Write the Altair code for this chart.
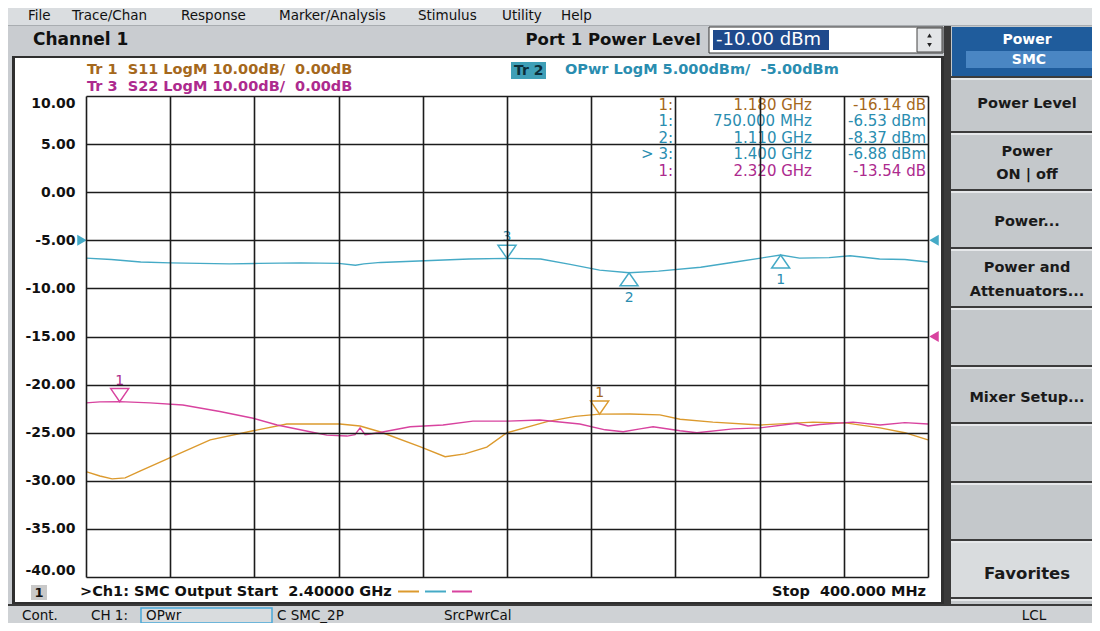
import altair as alt
import pandas as pd

# ---------------- sweep / graticule ----------------
start_mhz = 2400.0
stop_mhz = 400.0
x_grid_mhz = [400, 600, 800, 1000, 1200, 1400, 1600, 1800, 2000, 2200, 2400]
y_grid_vals = [10, 5, 0, -5, -10, -15, -20, -25, -30, -35, -40]

# trace scale settings (from the trace annotations)
tr2_ref_dbm = -5.0
tr2_per_div = 5.0
tr13_ref_db = 0.0
tr13_per_div = 10.0
tr13_ref_pos = -15.0   # graticule value where the S-parameter reference line sits

# ---------------- traces ----------------
tr2_freq_mhz = [2400, 2340, 2270, 2200, 2130, 2060, 1990, 1890, 1800, 1760,
                1740, 1700, 1610, 1490, 1400, 1320, 1250, 1180, 1110, 1040,
                940, 850, 775, 750, 705, 635, 585, 515, 455, 400]
tr2_opwr_dbm = [-6.85, -7.0, -7.25, -7.35, -7.4, -7.45, -7.4, -7.35, -7.4, -7.6,
                -7.45, -7.3, -7.15, -6.95, -6.88, -6.95, -7.5, -8.1, -8.37, -8.2,
                -7.8, -7.2, -6.7, -6.53, -6.85, -6.8, -6.6, -6.95, -7.0, -7.25]

tr1_freq_mhz = [2400, 2367, 2338, 2307, 2272, 2200, 2105, 2003, 1923, 1797,
                1749, 1702, 1607, 1547, 1500, 1448, 1400, 1305, 1238, 1180,
                1108, 1037, 989, 911, 799, 673, 592, 514, 455, 400]
tr1_s11_db = [-28.1, -29.0, -29.6, -29.4, -28.0, -25.2, -21.5, -19.6, -18.2, -18.2,
              -18.6, -19.8, -22.9, -25.0, -24.4, -23.0, -20.0, -17.7, -16.6, -16.14,
              -16.1, -16.3, -17.2, -17.8, -18.4, -17.8, -18.0, -19.0, -20.0, -21.5]

tr3_freq_mhz = [2400, 2367, 2320, 2248, 2170, 2082, 2003, 1946, 1868, 1828,
                1780, 1761, 1749, 1737, 1705, 1630, 1552, 1481, 1398, 1322,
                1227, 1167, 1124, 1084, 1053, 989, 949, 863, 799, 711,
                685, 657, 578, 514, 455, 400]
tr3_s22_db = [-13.8, -13.6, -13.54, -13.8, -14.25, -15.6, -17.0, -18.4, -19.8, -20.5,
              -20.7, -20.4, -19.0, -20.4, -20.0, -18.75, -18.4, -17.6, -17.6, -17.35,
              -18.2, -19.4, -19.8, -19.2, -18.75, -19.6, -20.0, -19.2, -19.0, -18.05,
              -18.6, -18.3, -17.8, -18.4, -17.9, -18.2]

# ---------------- markers ----------------
marker_trace = ["S11", "OPwr", "OPwr", "OPwr", "S22"]
marker_id = ["1", "1", "2", "3", "1"]
marker_freq_mhz = [1180, 750, 1110, 1400, 2320]
marker_value = [-16.14, -6.53, -8.37, -6.88, -13.54]
marker_unit = ["dB", "dBm", "dBm", "dBm", "dB"]
marker_pointing = ["down", "up", "up", "down", "down"]
marker_active = [False, False, False, True, False]

menu_items = ["File", "Trace/Chan", "Response", "Marker/Analysis", "Stimulus", "Utility", "Help"]

# ---------------- styles ----------------
FONT = "DejaVu Sans"
BG = "#c9ccd0"
GRID = "#1c1c1c"
LINE = {"S11": "#dc9a2e", "OPwr": "#45aac6", "S22": "#d8439f"}
TXT = {"S11": "#a5681c", "OPwr": "#2a8db0", "S22": "#ad2a8e"}

OX, OY = 86, 96          # page position of the plot origin
W, H = 842, 481


def s_to_disp(v):
    return tr13_ref_pos + (v - tr13_ref_db) * tr2_per_div / tr13_per_div


def to_disp(trace, v):
    return v if trace == "OPwr" else s_to_disp(v)


rows = []
for name, fs, vs in [("S11", tr1_freq_mhz, tr1_s11_db),
                     ("OPwr", tr2_freq_mhz, tr2_opwr_dbm),
                     ("S22", tr3_freq_mhz, tr3_s22_db)]:
    for f, v in zip(fs, vs):
        rows.append({"trace": name, "freq": f, "disp": to_disp(name, v)})
lines_df = pd.DataFrame(rows)

mk_df = pd.DataFrame({
    "trace": marker_trace,
    "label": marker_id,
    "freq": marker_freq_mhz,
    "disp": [to_disp(t, v) for t, v in zip(marker_trace, marker_value)],
    "col": [LINE[t] for t in marker_trace],
    "tcol": [TXT[t] for t in marker_trace],
    "pointing": marker_pointing,
})

xs = alt.Scale(domain=[stop_mhz, start_mhz], reverse=True, nice=False, zero=False)
ys = alt.Scale(domain=[-40, 10], nice=False, zero=False)
x_axis = alt.Axis(values=x_grid_mhz, grid=True, gridColor=GRID, gridWidth=1.6, gridOpacity=1,
                  labels=False, ticks=False, domain=False, title=None, zindex=1)
y_axis = alt.Axis(values=y_grid_vals, grid=True, gridColor=GRID, gridWidth=1.6, gridOpacity=1,
                  labelFont=FONT, labelFontSize=14, labelFontWeight="bold", labelColor="#111111",
                  labelPadding=11, labelFlush=True,
                  labelExpr="(datum.value < 0 ? '-' : '') + format(abs(datum.value), '.2f')",
                  ticks=False, domain=False, title=None, zindex=1)
XE = alt.X("freq:Q", scale=xs, axis=x_axis)
YE = alt.Y("disp:Q", scale=ys, axis=y_axis)

ONE = alt.InlineData(values=[{"k": 0}])


def R(x1, y1, x2, y2, fill, stroke=None, sw=0):
    kw = {"fill": fill}
    if stroke:
        kw.update(stroke=stroke, strokeWidth=sw)
    return alt.Chart(ONE).mark_rect(**kw).encode(
        x=alt.value(x1 - OX), x2=alt.value(x2 - OX),
        y=alt.value(y1 - OY), y2=alt.value(y2 - OY))


def T(s, x, y, size=14, color="#111111", weight="normal", align="left"):
    return alt.Chart(ONE).mark_text(text=s, font=FONT, fontSize=size, color=color,
                                    fontWeight=weight, align=align, baseline="middle").encode(
        x=alt.value(x - OX), y=alt.value(y - OY))


def P(x, y, shape, size, color):
    return alt.Chart(ONE).mark_point(shape=shape, size=size, filled=True, color=color, opacity=1).encode(
        x=alt.value(x - OX), y=alt.value(y - OY))


layers = []
# ---------- window chrome ----------
layers += [
    R(0, 0, 1100, 25, "#dadde0"),
    R(0, 25, 1100, 26, "#a9adb1"),
    R(944, 26, 951, 605, "#3a3a3a"),
    R(12, 56, 944, 604, "#2f2f2f"),
    R(15, 58, 941, 602, "#ffffff"),
    # power level entry
    R(709, 27, 943, 53, "#ffffff", "#333333", 1),
    R(713, 30, 829, 50, "#1f4a8c"),
    R(917, 28, 942, 52, "#e3e5e7", "#444444", 1),
    # softkey panel
    R(951, 26, 1100, 605, "#c4c8cb"),
    R(952, 27, 1100, 76, "#1f5c9c"),
    R(966, 51, 1092, 68, "#4a86c3"),
    R(951, 543, 1100, 597, "#d9dcde"),
]
for sy in [77, 132, 190, 248, 307, 366, 423, 482, 540, 598]:
    layers += [R(951, sy - 1, 1100, sy + 1, "#3c3c3c"), R(951, sy + 1, 1100, sy + 3, "#e6e8ea")]
layers += [
    # status bar
    R(0, 604, 1100, 606, "#3a3a3a"),
    R(0, 606, 1100, 631, "#cfd2d5"),
    R(141, 608, 272, 623, "#d9dcde", "#4aa8d8", 1.5),
    # in-chart boxes
    R(31, 585, 47, 600, "#c9c9c9"),
    R(511, 62, 546, 79, "#3f9fb7"),
    R(398, 590.5, 419, 592.5, LINE["S11"]),
    R(425, 590.5, 446, 592.5, LINE["OPwr"]),
    R(452, 590.5, 472, 592.5, LINE["S22"]),
]

# menu (kept inside the page's drawable area)
for item, mx in zip(menu_items, [28, 72, 181, 279, 418, 502, 561]):
    layers.append(T(item, mx, 16, 13.5))

layers += [
    T("Channel 1", 33, 40, 17, weight="bold"),
    T("Port 1 Power Level", 701, 40, 16.5, weight="bold", align="right"),
    T("-10.00 dBm", 716, 40, 18, color="#ffffff"),
    P(929.5, 35.5, "triangle-up", 22, "#222222"),
    P(929.5, 45, "triangle-down", 22, "#222222"),
    T("Power", 1027, 40, 14, color="#ffffff", weight="bold", align="center"),
    T("SMC", 1029, 59.5, 14, color="#ffffff", weight="bold", align="center"),
]
softkeys = [("Power Level", 104), ("Power", 152), ("ON | off", 175), ("Power...", 222),
            ("Power and", 268), ("Attenuators...", 292), ("Mixer Setup...", 398)]
for s, sy in softkeys:
    layers.append(T(s, 1027, sy, 14.5, color="#1a1a1a", weight="bold", align="center"))
layers.append(T("Favorites", 1027, 574, 16.5, color="#1a1a1a", weight="bold", align="center"))

for s, sx in [("Cont.", 22), ("CH 1:", 91), ("OPwr", 146), ("C SMC_2P", 277), ("SrcPwrCal", 444)]:
    layers.append(T(s, sx, 615.5, 13.5))
layers.append(T("LCL", 1034, 615.5, 13.5, align="center"))

# trace annotations
NB = "\u00a0"
layers += [
    T(f"Tr 1{NB} S11 LogM {tr13_per_div:.2f}dB/{NB} {tr13_ref_db:.2f}dB", 87, 70, 14.5, TXT["S11"], "bold"),
    T(f"Tr 3{NB} S22 LogM {tr13_per_div:.2f}dB/{NB} {tr13_ref_db:.2f}dB", 87, 87, 14.5, TXT["S22"], "bold"),
    T("Tr 2", 514, 70.5, 14, "#0b2e3a", "bold"),
    T(f"OPwr LogM {tr2_per_div:.3f}dBm/{NB} {tr2_ref_dbm:.2f}dBm", 565, 70, 14.5, TXT["OPwr"], "bold"),
    T("1", 39, 592.5, 13, "#111111", "bold", "center"),
    T(f">Ch1: SMC Output Start{NB} {start_mhz/1000:.5f} GHz", 80, 592, 14.5, "#111111", "bold"),
    T(f"Stop{NB} {stop_mhz:.3f} MHz", 926, 592, 14.5, "#111111", "bold", "right"),
]

# marker readout table
order = [0, 1, 2, 3, 4]
for r, i in enumerate(order):
    f = marker_freq_mhz[i]
    fs = f"{f/1000:.3f} GHz" if f >= 1000 else f"{f:.3f} MHz"
    vs = f"{marker_value[i]:.2f} {marker_unit[i]}"
    ids = ("> " if marker_active[i] else "") + marker_id[i] + ":"
    yy = 104.5 + 16.5 * r
    c = TXT[marker_trace[i]]
    layers += [T(ids, 673, yy, 15, c, align="right"),
               T(fs, 812, yy, 15, c, align="right"),
               T(vs, 926, yy, 15, c, align="right")]

# ---------- data layers ----------
lines = alt.Chart(lines_df).mark_line(strokeWidth=1.4, interpolate="linear").encode(
    x=XE, y=YE,
    color=alt.Color("trace:N", scale=alt.Scale(domain=list(LINE.keys()), range=list(LINE.values())), legend=None),
    detail="trace:N",
)
layers.append(lines)

ref_left = alt.Chart(pd.DataFrame({"disp": [tr2_ref_dbm]})).mark_point(
    shape="triangle-right", size=120, filled=True, color=LINE["OPwr"], opacity=1).encode(
    x=alt.value(-4), y=YE)
ref_right = alt.Chart(pd.DataFrame({"disp": [tr2_ref_dbm, tr13_ref_pos],
                                    "col": [LINE["OPwr"], LINE["S22"]]})).mark_point(
    shape="triangle-left", size=120, filled=True, opacity=1).encode(
    x=alt.value(W + 6), y=YE, color=alt.Color("col:N", scale=None))
layers += [ref_left, ref_right]

DOWN = "M-1,-1.45L1,-1.45L0,0Z"
UP = "M-1,1.45L1,1.45L0,0Z"
for pointing, shape, dy in [("down", DOWN, -21), ("up", UP, 25)]:
    sub = mk_df[mk_df["pointing"] == pointing]
    layers.append(alt.Chart(sub).mark_point(shape=shape, size=324, filled=False, fill="white",
                                            fillOpacity=1, strokeWidth=1.5, opacity=1).encode(
        x=XE, y=YE, stroke=alt.Stroke("col:N", scale=None)))
    layers.append(alt.Chart(sub).mark_text(dy=dy, font=FONT, fontSize=14).encode(
        x=XE, y=YE, text="label:N", color=alt.Color("tcol:N", scale=None)))

chart = alt.layer(*layers).properties(
    width=W, height=H,
    padding={"left": 78, "top": 88, "right": 164, "bottom": 46},
    autosize=alt.AutoSizeParams(type="none"),
    background=BG,
).configure_view(stroke=None)

chart.save("out.html", embed_options={"renderer": "svg", "actions": False})
